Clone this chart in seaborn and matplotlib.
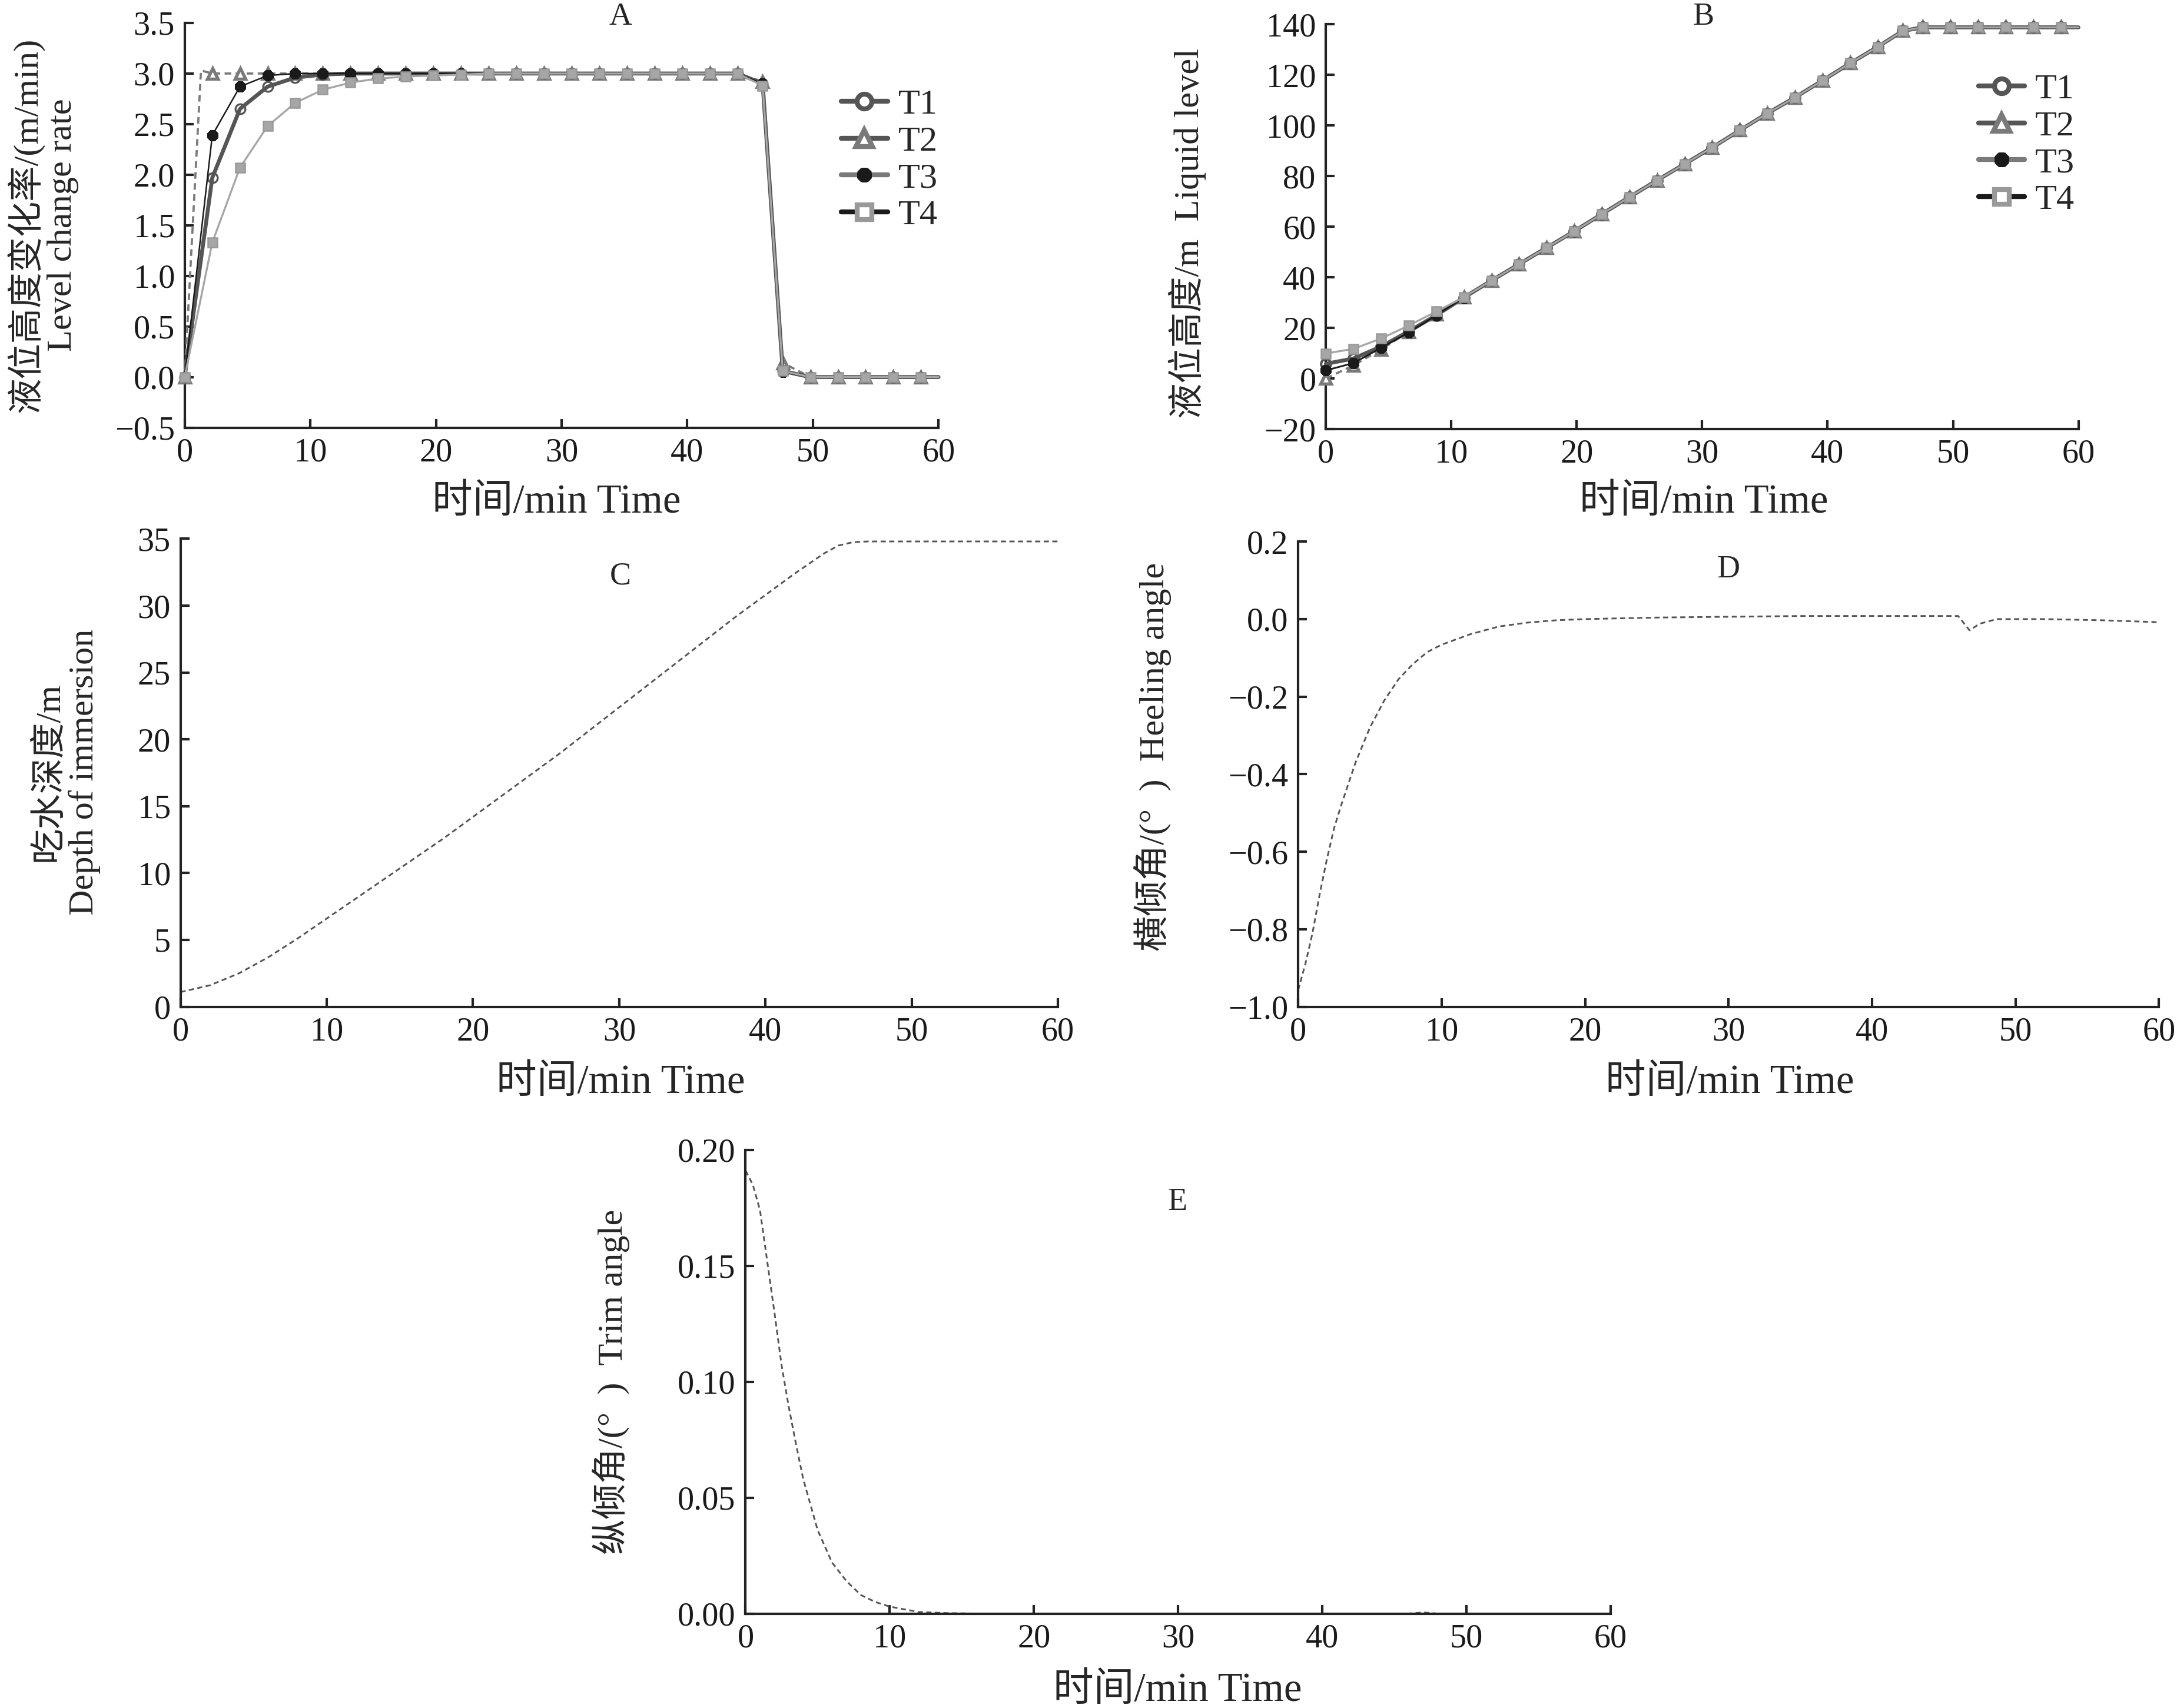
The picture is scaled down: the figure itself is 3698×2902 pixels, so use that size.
import matplotlib
matplotlib.use('Agg')
import matplotlib.pyplot as plt
import seaborn as sns
import numpy as np
from matplotlib.lines import Line2D
from matplotlib.ticker import FuncFormatter

# ---- data ----
# sample times (min) used in panels A and B
time_ab = [0, 2.2, 4.4, 6.6, 8.8, 11.0, 13.2, 15.4, 17.6, 19.8, 22.0, 24.2, 26.4, 28.6,
           30.8, 33.0, 35.2, 37.4, 39.6, 41.8, 44.0, 46.0, 47.6, 49.8, 52.0, 54.2, 56.4,
           58.6, 60.0]
# T2 of panel A has one extra (unmarked) point where the dashed line tops out
time_a_t2 = [0, 1.3, 2.2, 4.4, 6.6, 8.8, 11.0, 13.2, 15.4, 17.6, 19.8, 22.0, 24.2, 26.4,
             28.6, 30.8, 33.0, 35.2, 37.4, 39.6, 41.8, 44.0, 46.0, 47.6, 49.8, 52.0, 54.2,
             56.4, 58.6, 60.0]

# A: level change rate (m/min)
rate_t1 = [0, 1.97, 2.65, 2.87, 2.96, 2.99, 3.0, 3.0, 3.0, 3.0, 3.0, 3.0, 3.0, 3.0,
           3.0, 3.0, 3.0, 3.0, 3.0, 3.0, 3.0, 2.9, 0.06, 0, 0, 0, 0, 0, 0]
rate_t2 = [0, 3.03, 3.0, 3.0, 3.0, 3.0, 3.0, 3.0, 3.0, 3.0, 3.0, 3.0, 3.0, 3.0, 3.0,
           3.0, 3.0, 3.0, 3.0, 3.0, 3.0, 3.0, 2.92, 0.14, 0, 0, 0, 0, 0, 0]
rate_t3 = [0, 2.39, 2.87, 2.98, 3.0, 3.0, 3.0, 3.0, 3.0, 3.0, 3.0, 3.0, 3.0, 3.0,
           3.0, 3.0, 3.0, 3.0, 3.0, 3.0, 3.0, 2.9, 0.05, 0, 0, 0, 0, 0, 0]
rate_t4 = [0, 1.33, 2.07, 2.48, 2.71, 2.84, 2.91, 2.95, 2.97, 2.98, 2.99, 3.0, 3.0, 3.0,
           3.0, 3.0, 3.0, 3.0, 3.0, 3.0, 3.0, 2.88, 0.06, 0, 0, 0, 0, 0, 0]

# B: liquid level (m)
level_t1 = [5.8, 7.9, 12.6, 18.6, 25.0, 32.0, 38.7, 45.2, 51.7, 58.2, 65.0, 71.7, 78.3,
            84.8, 91.3, 98.1, 104.8, 111.1, 117.8, 124.6, 131.1, 137.4, 138.8, 138.8,
            138.8, 138.8, 138.8, 138.8, 138.8]
level_t2 = [0.0, 5.2, 11.5, 18.4, 25.3, 32.1, 38.7, 45.2, 51.7, 58.2, 65.0, 71.7, 78.3,
            84.8, 91.3, 98.1, 104.8, 111.1, 117.8, 124.6, 131.1, 137.4, 138.8, 138.8,
            138.8, 138.8, 138.8, 138.8, 138.8]
level_t3 = [3.2, 6.1, 12.1, 18.2, 25.0, 32.0, 38.7, 45.2, 51.7, 58.2, 65.0, 71.7, 78.3,
            84.8, 91.3, 98.1, 104.8, 111.1, 117.8, 124.6, 131.1, 137.4, 138.8, 138.8,
            138.8, 138.8, 138.8, 138.8, 138.8]
level_t4 = [9.9, 11.7, 15.8, 20.9, 26.5, 32.1, 38.7, 45.2, 51.7, 58.2, 65.0, 71.7, 78.3,
            84.8, 91.3, 98.1, 104.8, 111.1, 117.8, 124.6, 131.1, 137.4, 138.8, 138.8,
            138.8, 138.8, 138.8, 138.8, 138.8]

# C: depth of immersion (m)
time_c = [0, 2, 4, 6, 8, 10, 12, 14, 16, 18, 20, 22, 24, 26, 28, 30, 32, 34, 36, 38,
          40, 42, 44, 45, 46, 47, 50, 55, 60]
depth = [1.1, 1.6, 2.5, 3.7, 5.1, 6.6, 8.1, 9.6, 11.1, 12.6, 14.2, 15.8, 17.4, 19.0,
         20.7, 22.4, 24.1, 25.8, 27.5, 29.2, 30.8, 32.4, 33.9, 34.5, 34.75, 34.8, 34.8,
         34.8, 34.8]

# D: heeling angle (deg)
time_d = [0, 0.5, 1, 1.5, 2, 2.5, 3, 4, 5, 6, 7, 8, 9, 10, 12, 14, 16, 18, 20, 25, 30,
          35, 40, 46, 46.8, 47.5, 48.7, 52, 56, 60]
heel = [-0.957, -0.89, -0.81, -0.71, -0.62, -0.54, -0.48, -0.37, -0.28, -0.21, -0.155,
        -0.116, -0.085, -0.066, -0.039, -0.019, -0.009, -0.003, 0.0, 0.004, 0.006, 0.008,
        0.008, 0.008, -0.029, -0.012, 0.0, 0.0, -0.003, -0.008]

# E: trim angle (deg)
time_e = [0, 0.5, 1, 1.5, 2, 2.5, 3, 3.5, 4, 5, 6, 7, 8, 9, 10, 12, 14, 16, 20, 30, 40,
          46, 47, 48, 50, 60]
trim = [0.191, 0.185, 0.174, 0.152, 0.130, 0.107, 0.089, 0.073, 0.058, 0.036, 0.022,
        0.014, 0.008, 0.005, 0.003, 0.0007, 0.0002, 0.0, 0.0, 0.0, 0.0, 0.0, 0.0005, 0.0,
        0.0, 0.0]

series_names = ['T1', 'T2', 'T3', 'T4']
time_label = '时间/min Time'

# ---- style ----
sns.set_style('ticks')
plt.rcParams['font.family'] = ['Liberation Serif', 'Noto Sans CJK SC']
plt.rcParams['axes.unicode_minus'] = True

W, H = 1568.0, 1230.0  # layout measured on the reference thumbnail


def box(l, r, t, b):
    return [l / W, 1 - b / H, (r - l) / W, (b - t) / H]


def ftext(x, y, s, **kw):
    fig.text(x / W, 1 - y / H, s, ha='center', va='center', **kw)


def tick_fmt(decimals):
    def f(v, pos):
        v = round(v, decimals)
        if v == 0:
            v = 0.0
        return ('{:.%df}' % decimals).format(v).replace('-', '\u2212')
    return FuncFormatter(f)


fig = plt.figure(figsize=(3698 / 300, 2902 / 300), dpi=300)

axA = fig.add_axes(box(133, 676, 16.5, 308))
axB = fig.add_axes(box(955, 1497, 17.5, 309))
axC = fig.add_axes(box(130, 762, 388, 725))
axD = fig.add_axes(box(935, 1555, 390, 725))
axE = fig.add_axes(box(537, 1160, 828, 1162))

dark = '#555555'
mid = '#7a7a7a'
light = '#a6a6a6'
black = '#1a1a1a'
mk_all = slice(0, len(time_ab) - 1)
mk_t2 = [i for i in range(len(time_a_t2) - 1) if i != 1]

# panel A
sns.lineplot(x=time_a_t2, y=rate_t2, ax=axA, color=mid, lw=0.9, ls=(0, (3, 2)),
             marker='^', ms=4.5, mfc='white', mec=mid, mew=1.3, markevery=mk_t2,
             clip_on=False, zorder=3)
sns.lineplot(x=time_ab, y=rate_t1, ax=axA, color=dark, lw=1.6, marker='o', ms=4,
             mfc='none', mec=dark, mew=0.8, markevery=mk_all, clip_on=False, zorder=4)
sns.lineplot(x=time_ab, y=rate_t3, ax=axA, color=black, lw=0.6, marker=(8, 2, 0), ms=4.5,
             mec=black, mew=1.8, markevery=mk_all, clip_on=False, zorder=5)
sns.lineplot(x=time_ab, y=rate_t4, ax=axA, color=light, lw=0.8, marker='s', ms=3.8,
             mfc=light, mec='#999999', mew=0.6, markevery=mk_all, clip_on=False, zorder=6)

# panel B
sns.lineplot(x=time_ab, y=level_t2, ax=axB, color=mid, lw=0.9, ls=(0, (3, 2)),
             marker='^', ms=4.5, mfc='white', mec=mid, mew=1.3, markevery=mk_all,
             clip_on=False, zorder=3)
sns.lineplot(x=time_ab, y=level_t1, ax=axB, color=dark, lw=1.6, marker='o', ms=4,
             mfc='none', mec=dark, mew=1.0, markevery=mk_all, clip_on=False, zorder=4)
sns.lineplot(x=time_ab, y=level_t3, ax=axB, color=black, lw=0.7, marker=(8, 2, 0), ms=4.5,
             mec=black, mew=1.8, markevery=mk_all, clip_on=False, zorder=5)
sns.lineplot(x=time_ab, y=level_t4, ax=axB, color=light, lw=0.8, marker='s', ms=3.8,
             mfc=light, mec='#999999', mew=0.6, markevery=mk_all, clip_on=False, zorder=6)

# panels C, D, E
sns.lineplot(x=time_c, y=depth, ax=axC, color=dark, lw=0.7, ls=(0, (3, 2)), clip_on=False)
sns.lineplot(x=time_d, y=heel, ax=axD, color=dark, lw=0.7, ls=(0, (3, 2)), clip_on=False)
sns.lineplot(x=time_e, y=trim, ax=axE, color=dark, lw=0.7, ls=(0, (3, 2)), clip_on=False)

limits = {
    axA: ((-0.5, 3.5), np.arange(-0.5, 3.51, 0.5), 1),
    axB: ((-20, 140), np.arange(-20, 141, 20), 0),
    axC: ((0, 35), np.arange(0, 36, 5), 0),
    axD: ((-1.0, 0.2), np.arange(-1.0, 0.21, 0.2), 1),
    axE: ((0, 0.2), np.arange(0, 0.201, 0.05), 2),
}
for ax, (ylim, yt, dec) in limits.items():
    ax.set_xlim(0, 60)
    ax.set_ylim(*ylim)
    ax.set_xticks(range(0, 61, 10))
    ax.set_yticks(yt)
    ax.yaxis.set_major_formatter(tick_fmt(dec))
    ax.set_xlabel('')
    ax.set_ylabel('')
    for s in ['top', 'right']:
        ax.spines[s].set_visible(False)
    for s in ['left', 'bottom']:
        ax.spines[s].set_linewidth(1.0)
        ax.spines[s].set_color('#222222')
    ax.tick_params(direction='in', length=3.5, width=1.0, color='#222222',
                   labelsize=13.5, labelcolor='#1a1a1a', pad=4)

# legends (custom handles as in the reference)
handles = [
    Line2D([], [], color=dark, lw=2, marker='o', ms=6, mfc='white', mec=dark, mew=2),
    Line2D([], [], color=dark, lw=2, marker='^', ms=6.5, mfc='white', mec=mid, mew=2),
    Line2D([], [], color=mid, lw=2, marker=(8, 2, 0), ms=6, mec=black, mew=2.2),
    Line2D([], [], color=black, lw=2, marker='s', ms=6, mfc='white', mec='#999999', mew=2),
]
for ax, (lx, ly) in [(axA, (606, 64)), (axB, (1425, 53))]:
    ax.legend(handles, series_names, loc='upper left',
              bbox_to_anchor=(lx / W, 1 - ly / H), bbox_transform=fig.transFigure,
              frameon=False, fontsize=14.5, handlelength=1.3, handletextpad=0.3,
              labelspacing=0.12, borderpad=0, borderaxespad=0)

# panel letters
for s, x, y in [('A', 447, 12), ('B', 1227, 12), ('C', 447, 415), ('D', 1245, 410),
                ('E', 848, 866)]:
    ftext(x, y, s, fontsize=13)

# x labels
for x, y in [(401, 362), (1227, 362), (447, 780), (1246, 780), (848, 1218)]:
    ftext(x, y, time_label, fontsize=16.5)

# y labels
ftext(31, 162, '液位高度变化率/(m/min)\nLevel change rate', fontsize=14.5, rotation=90,
      linespacing=1.1)
ftext(855, 168, '液位高度/m  Liquid level', fontsize=14.5, rotation=90)
ftext(48, 556, '吃水深度/m\nDepth of immersion', fontsize=14.5, rotation=90,
      linespacing=1.1)
ftext(830, 545, '横倾角/(°  )  Heeling angle', fontsize=14.5, rotation=90)
ftext(440, 995, '纵倾角/(°  )  Trim angle', fontsize=14.5, rotation=90)

fig.savefig('out.png', dpi=300, facecolor='white')
